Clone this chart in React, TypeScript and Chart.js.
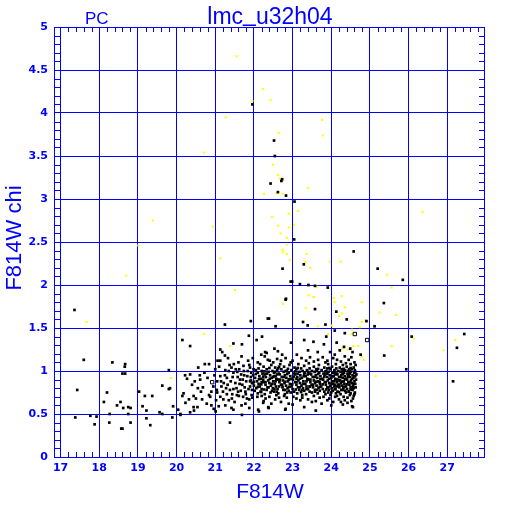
import React, { useEffect, useRef } from "react";
import { Chart, registerables } from "chart.js";
Chart.register(...registerables);

const BLUE = "#0000ff";
const xTickValues = [17, 18, 19, 20, 21, 22, 23, 24, 25, 26, 27];
const xTickLabels = ["17", "18", "19", "20", "21", "22", "23", "24", "25", "26", "27"];
const yTickValues = [0, 0.5, 1, 1.5, 2, 2.5, 3, 3.5, 4, 4.5, 5];
const yTickLabels = ["0", "0.5", "1", "1.5", "2", "2.5", "3", "3.5", "4", "4.5", "5"];
const xRange = [16.83, 27.95];
const yRange = [0, 5];
const titleParts = ["lmc", "_", "u32h04"];
const cornerText = "PC";
const xTitle = "F814W";
const yTitle = "F814W chi";

type P = [number, number];

const blackLeft: P[] = [
  [17.36, 1.71], [17.6, 1.13], [18.34, 1.1], [18.67, 1.08], [18.66, 1.05], [18.6, 0.97], [18.67, 0.97],
  [19.8, 1.01], [17.43, 0.78], [18.2, 0.75], [18.12, 0.64], [18.55, 0.64], [18.46, 0.6], [18.62, 0.57],
  [18.75, 0.58], [18.81, 0.57], [19.03, 0.76], [19.18, 0.71], [19.37, 0.71], [19.63, 0.83], [19.8, 0.79],
  [19.12, 0.59], [19.22, 0.54], [19.56, 0.52], [19.63, 0.5], [19.91, 0.59], [20.04, 0.55], [18.75, 0.5],
  [18.27, 0.5], [17.77, 0.48], [17.93, 0.47], [17.38, 0.46], [18.26, 0.4], [17.88, 0.38], [18.81, 0.4],
  [19.22, 0.45], [19.32, 0.37], [18.57, 0.33], [18.6, 0.33], [19.89, 0.46], [19.83, 0.8],
];

const blackMid: P[] = [
  [20.15, 1.36], [20.35, 1.29], [21.25, 1.54], [21.92, 1.58], [21.87, 1.41], [22.21, 1.4], [22.07, 1.36],
  [21.47, 1.32], [21.69, 1.31], [21.13, 1.25], [21.18, 1.22], [21.33, 1.15], [21.25, 1.18], [21.06, 1.12],
  [21.13, 1.12], [21.68, 1.17], [21.97, 1.15], [20.73, 1.08], [20.84, 1.08], [20.56, 1.04], [21.26, 1.01],
  [21.42, 1.04], [21.73, 1.06], [21.88, 1.07], [20.47, 0.88], [20.27, 0.91], [20.68, 0.81], [20.84, 0.72],
  [21.04, 0.78], [21.16, 0.82], [21.38, 0.78], [21.47, 0.79], [21.21, 0.67], [21.35, 0.66], [21.61, 0.71],
  [21.78, 0.76], [21.88, 0.67], [22.09, 0.7], [20.18, 0.74], [20.15, 0.71], [20.32, 0.67], [20.44, 0.71],
  [20.66, 0.67], [20.23, 0.63], [20.54, 0.58], [20.44, 0.58], [20.35, 0.52], [20.45, 0.54], [20.1, 0.49],
  [21.01, 0.53], [21.09, 0.59], [21.42, 0.57], [21.68, 0.6], [21.88, 0.57], [22.13, 0.53], [21.38, 0.4],
  [21.69, 0.49], [20.35, 0.96], [20.22, 0.95], [20.61, 0.9], [21.13, 0.94], [21.64, 0.9], [21.9, 0.82],
  [21.47, 0.98], [20.63, 0.76], [20.87, 0.7], [21.13, 0.7], [21.56, 0.72], [21.82, 0.68], [20.96, 0.56],
  [21.26, 0.6], [21.47, 0.55], [22.11, 0.55], [21.52, 0.86], [21.58, 0.93], [21.62, 1.02], [21.7, 0.84],
  [21.75, 0.95], [21.8, 0.88], [21.84, 1.0], [21.92, 0.93], [21.95, 0.78], [21.98, 0.86], [21.55, 0.8],
  [21.66, 0.77], [21.72, 0.7], [21.4, 0.88], [21.3, 0.92], [21.22, 0.86], [21.44, 0.73], [21.9, 1.04],
  [21.35, 1.0], [21.05, 0.88], [20.95, 0.82], [20.98, 0.95], [20.8, 0.92], [20.78, 0.62], [20.55, 0.8],
  [20.4, 0.84], [21.0, 1.02], [21.2, 0.76], [21.5, 0.64], [21.78, 0.62], [21.6, 1.1], [21.85, 1.12],
  [21.94, 0.72], [21.76, 0.81], [21.57, 0.99], [21.48, 1.08], [21.3, 0.73], [21.02, 0.66], [20.9, 0.6],
  [20.72, 0.98], [20.1, 0.5],
  [21.05, 0.75], [21.15, 0.88], [21.25, 0.95], [21.32, 0.84], [21.37, 1.07], [21.45, 0.93], [21.53, 1.02],
  [21.59, 0.76], [21.63, 0.85], [21.67, 0.96], [21.71, 0.9], [21.74, 1.0], [21.79, 0.73], [21.83, 0.94],
  [21.86, 0.79], [21.9, 0.88], [21.93, 0.98], [21.96, 0.69], [21.99, 1.02], [21.43, 0.68], [21.28, 0.8],
  [21.1, 1.05], [20.9, 0.76], [20.6, 0.95], [20.5, 0.68],
];

const blackUpper: P[] = [
  [21.96, 4.1], [22.52, 3.68], [22.54, 3.5], [22.73, 3.23], [22.71, 3.21], [22.43, 3.18], [22.62, 3.08],
  [22.83, 3.04], [23.05, 2.97], [23.04, 2.53], [24.58, 2.39], [23.29, 2.24], [22.74, 2.19], [22.95, 2.04],
  [22.99, 2.04], [23.19, 2.01], [23.41, 2.0], [23.58, 1.99], [23.91, 1.97], [22.83, 1.84], [22.82, 1.83],
  [23.58, 1.72], [24.13, 1.69], [24.4, 1.6], [22.39, 1.61], [22.36, 1.61], [23.27, 1.57], [23.39, 1.53],
  [23.85, 1.54], [22.56, 1.52], [24.09, 1.47], [24.35, 1.44], [23.87, 1.4], [23.3, 1.36], [23.54, 1.34],
  [23.81, 1.31], [24.14, 1.33], [24.33, 1.28], [24.49, 1.26], [22.96, 1.33], [22.53, 1.26], [22.29, 1.22],
  [22.73, 1.19], [23.11, 1.19], [23.65, 1.22], [23.97, 1.22], [24.09, 1.19], [24.35, 1.17], [24.55, 1.22],
  [23.4, 1.24], [22.62, 1.23], [24.22, 1.24], [22.19, 1.19], [22.33, 1.21],
];

const blackRight: P[] = [
  [25.36, 1.79], [25.12, 1.52], [24.91, 1.58], [24.76, 1.19], [25.37, 1.18], [26.08, 1.4], [27.44, 1.43],
  [27.25, 1.27], [25.94, 1.02], [27.15, 0.88], [25.2, 2.19], [25.85, 2.06],
];

const blackCore: P[] = [
  [22.41, 1.12], [22.82, 1.15], [23.23, 1.15], [23.66, 1.13], [22.36, 1.13], [22.28, 1.17], [22.6, 1.14],
  [23.0, 1.12], [23.45, 1.16], [23.9, 1.12], [24.05, 1.15], [24.25, 1.11], [24.45, 1.13], [24.6, 1.1],
  [22.1, 1.1], [23.78, 1.16], [24.52, 1.16],
  [22.16, 1.08], [22.25, 1.05], [22.45, 1.07], [22.55, 1.04], [22.68, 1.08], [22.78, 1.05], [22.92, 1.07],
  [23.05, 1.04], [23.15, 1.08], [23.3, 1.06], [23.42, 1.09], [23.55, 1.05], [23.68, 1.07], [23.82, 1.04],
  [23.92, 1.08], [24.02, 1.05], [24.12, 1.08], [24.22, 1.04], [24.3, 1.07], [24.4, 1.05], [24.5, 1.08],
  [24.58, 1.04], [24.63, 1.07], [23.22, 1.03], [24.46, 1.02],
  [22.05, 1.01], [22.2, 1.0], [22.33, 1.02], [22.48, 1.0], [22.6, 1.01], [22.71, 1.02], [22.85, 1.0],
  [22.97, 1.01], [23.1, 1.02], [23.26, 1.0], [23.37, 1.01], [23.5, 1.0], [23.61, 1.02], [23.75, 1.01],
  [23.87, 1.0], [23.98, 1.02], [24.08, 1.01], [24.18, 1.0], [24.27, 1.02], [24.36, 1.01], [24.44, 1.0],
  [24.53, 1.02], [24.61, 1.01],
  [22.1, 0.98], [22.22, 0.97], [22.38, 0.99], [22.52, 0.98], [22.64, 0.97], [22.77, 0.99], [22.9, 0.98],
  [23.03, 0.97], [23.18, 0.99], [23.31, 0.98], [23.45, 0.97], [23.57, 0.99], [23.69, 0.98], [23.8, 0.97],
  [23.93, 0.99], [24.04, 0.98], [24.14, 0.97], [24.24, 0.99], [24.33, 0.98], [24.42, 0.97], [24.5, 0.99],
  [24.59, 0.98], [24.65, 0.96],
  [21.98, 0.95], [22.14, 0.94], [22.28, 0.96], [22.42, 0.95], [22.56, 0.94], [22.67, 0.96], [22.8, 0.95],
  [22.94, 0.94], [23.07, 0.96], [23.2, 0.95], [23.34, 0.94], [23.48, 0.96], [23.6, 0.95], [23.72, 0.94],
  [23.84, 0.96], [23.96, 0.95], [24.06, 0.94], [24.16, 0.96], [24.26, 0.95], [24.35, 0.94], [24.45, 0.96],
  [24.55, 0.95], [24.62, 0.94],
  [22.03, 0.92], [22.18, 0.91], [22.31, 0.93], [22.46, 0.92], [22.58, 0.91], [22.72, 0.93], [22.84, 0.92],
  [22.98, 0.91], [23.12, 0.93], [23.24, 0.92], [23.38, 0.91], [23.52, 0.93], [23.64, 0.92], [23.77, 0.91],
  [23.89, 0.93], [24.0, 0.92], [24.1, 0.91], [24.2, 0.93], [24.3, 0.92], [24.39, 0.91], [24.48, 0.93],
  [24.57, 0.92], [24.64, 0.9],
  [21.92, 0.89], [22.08, 0.88], [22.24, 0.9], [22.37, 0.89], [22.5, 0.88], [22.62, 0.9], [22.75, 0.89],
  [22.88, 0.88], [23.01, 0.9], [23.15, 0.89], [23.28, 0.88], [23.41, 0.9], [23.55, 0.89], [23.66, 0.88],
  [23.79, 0.9], [23.91, 0.89], [24.02, 0.88], [24.13, 0.9], [24.23, 0.89], [24.32, 0.88], [24.41, 0.9],
  [24.51, 0.89], [24.6, 0.88],
  [21.95, 0.86], [22.12, 0.85], [22.26, 0.87], [22.4, 0.86], [22.54, 0.85], [22.66, 0.87], [22.79, 0.86],
  [22.93, 0.85], [23.06, 0.87], [23.19, 0.86], [23.33, 0.85], [23.46, 0.87], [23.58, 0.86], [23.71, 0.85],
  [23.83, 0.87], [23.95, 0.86], [24.05, 0.85], [24.15, 0.87], [24.25, 0.86], [24.34, 0.85], [24.44, 0.87],
  [24.53, 0.86], [24.62, 0.85],
  [22.0, 0.83], [22.15, 0.82], [22.3, 0.84], [22.44, 0.83], [22.57, 0.82], [22.7, 0.84], [22.83, 0.83],
  [22.96, 0.82], [23.1, 0.84], [23.23, 0.83], [23.36, 0.82], [23.49, 0.84], [23.62, 0.83], [23.74, 0.82],
  [23.86, 0.84], [23.97, 0.83], [24.08, 0.82], [24.18, 0.84], [24.28, 0.83], [24.38, 0.82], [24.47, 0.84],
  [24.56, 0.83], [24.63, 0.81],
  [22.06, 0.8], [22.2, 0.79], [22.35, 0.81], [22.49, 0.8], [22.61, 0.79], [22.74, 0.81], [22.87, 0.8],
  [23.0, 0.79], [23.14, 0.81], [23.27, 0.8], [23.4, 0.79], [23.53, 0.81], [23.67, 0.8], [23.78, 0.79],
  [23.9, 0.81], [24.01, 0.8], [24.11, 0.79], [24.21, 0.81], [24.31, 0.8], [24.41, 0.79], [24.5, 0.81],
  [24.58, 0.8],
  [22.02, 0.77], [22.17, 0.76], [22.33, 0.78], [22.47, 0.77], [22.59, 0.76], [22.76, 0.78], [22.9, 0.77],
  [23.04, 0.76], [23.17, 0.78], [23.3, 0.77], [23.44, 0.76], [23.58, 0.78], [23.7, 0.77], [23.82, 0.76],
  [23.94, 0.78], [24.04, 0.77], [24.16, 0.76], [24.26, 0.78], [24.36, 0.77], [24.46, 0.76], [24.55, 0.78],
  [24.61, 0.75],
  [22.1, 0.74], [22.28, 0.73], [22.43, 0.75], [22.63, 0.74], [22.8, 0.73], [22.95, 0.75], [23.12, 0.74],
  [23.35, 0.73], [23.5, 0.75], [23.65, 0.74], [23.85, 0.73], [24.0, 0.75], [24.12, 0.74], [24.24, 0.73],
  [24.38, 0.75], [24.5, 0.74], [24.6, 0.73],
  [22.2, 0.71], [22.4, 0.7], [22.58, 0.72], [22.78, 0.71], [23.02, 0.7], [23.25, 0.72], [23.55, 0.71],
  [23.8, 0.7], [23.98, 0.72], [24.15, 0.71], [24.32, 0.7], [24.48, 0.72], [24.58, 0.71],
  [22.3, 0.68], [22.55, 0.67], [22.85, 0.69], [23.1, 0.68], [23.4, 0.67], [23.7, 0.69], [23.95, 0.68],
  [24.2, 0.67], [24.42, 0.69], [24.56, 0.68],
  [22.25, 0.65], [22.7, 0.64], [23.2, 0.66], [23.6, 0.65], [24.05, 0.64], [24.35, 0.66], [24.52, 0.65],
  [22.45, 0.62], [23.0, 0.61], [23.75, 0.62], [24.3, 0.61],
  [22.37, 0.58], [22.82, 0.56], [24.0, 0.6], [24.42, 0.63], [24.54, 0.59], [22.81, 0.55], [24.56, 0.58],
  [23.3, 0.58], [23.6, 0.54], [22.24, 0.63], [22.38, 0.57],
  [22.5, 0.93], [22.9, 0.9], [23.3, 0.96], [23.7, 0.87], [24.1, 0.84], [24.45, 0.94], [22.65, 1.05],
  [23.25, 0.78], [23.9, 1.03], [24.3, 0.97], [22.2, 0.87], [23.45, 0.82], [24.2, 0.89], [23.1, 0.91],
];

const blackCoreExtra: P[] = [
  [22.12, 1.03], [22.4, 1.035], [22.63, 1.03], [22.88, 1.025], [23.13, 1.035], [23.44, 1.03], [23.66, 1.025],
  [23.95, 1.035], [24.13, 1.03], [24.32, 1.025], [24.5, 1.035],
  [22.27, 0.995], [22.55, 0.99], [22.82, 1.0], [23.07, 0.995], [23.4, 0.99], [23.63, 1.0], [23.85, 0.995],
  [24.1, 0.99], [24.3, 1.0], [24.47, 0.995], [24.62, 0.99],
  [22.05, 0.965], [22.34, 0.97], [22.6, 0.96], [22.86, 0.965], [23.13, 0.97], [23.39, 0.96], [23.66, 0.965],
  [23.9, 0.97], [24.1, 0.96], [24.29, 0.965], [24.48, 0.97],
  [22.24, 0.935], [22.52, 0.94], [22.77, 0.93], [23.03, 0.935], [23.29, 0.94], [23.57, 0.93], [23.82, 0.935],
  [24.04, 0.94], [24.24, 0.93], [24.43, 0.935], [24.6, 0.94],
  [22.13, 0.905], [22.41, 0.91], [22.67, 0.9], [22.92, 0.905], [23.19, 0.91], [23.46, 0.9], [23.72, 0.905],
  [23.95, 0.91], [24.16, 0.9], [24.36, 0.905], [24.54, 0.91],
  [22.0, 0.875], [22.3, 0.87], [22.56, 0.88], [22.81, 0.875], [23.1, 0.87], [23.36, 0.88], [23.61, 0.875],
  [23.86, 0.87], [24.08, 0.88], [24.28, 0.875], [24.47, 0.87],
  [22.19, 0.845], [22.47, 0.85], [22.73, 0.84], [22.99, 0.845], [23.27, 0.85], [23.53, 0.84], [23.78, 0.845],
  [24.01, 0.85], [24.21, 0.84], [24.4, 0.845], [24.58, 0.85],
  [22.1, 0.815], [22.38, 0.81], [22.65, 0.82], [22.91, 0.815], [23.18, 0.81], [23.44, 0.82], [23.7, 0.815],
  [23.93, 0.81], [24.14, 0.82], [24.34, 0.815], [24.53, 0.81],
  [22.26, 0.785], [22.53, 0.79], [22.81, 0.78], [23.08, 0.785], [23.36, 0.79], [23.62, 0.78], [23.87, 0.785],
  [24.09, 0.79], [24.3, 0.78], [24.5, 0.785],
  [22.19, 0.755], [22.52, 0.76], [22.86, 0.75], [23.22, 0.755], [23.58, 0.76], [23.92, 0.75], [24.2, 0.755],
  [24.45, 0.76],
  [22.5, 1.1], [22.95, 1.1], [23.35, 1.12], [23.55, 1.11], [24.15, 1.13], [24.38, 1.09], [22.7, 1.12],
  [23.85, 1.1], [22.9, 0.62], [23.5, 0.64], [23.9, 0.66], [24.25, 0.64], [22.65, 0.69], [23.25, 0.69],
  [24.1, 0.7],
];

const hollowPts: P[] = [
  [24.61, 1.43], [24.93, 1.36], [20.92, 0.87],
];

const yellowPts: P[] = [
  [21.55, 4.66], [21.96, 4.14], [21.27, 3.95], [22.23, 4.28], [22.43, 4.15], [23.76, 3.92], [22.64, 3.77],
  [20.71, 3.54], [23.78, 3.74], [22.49, 3.4], [22.62, 3.28], [22.67, 3.24], [23.4, 3.13], [22.26, 3.06],
  [22.59, 3.07], [22.74, 3.06], [23.14, 2.86], [22.9, 2.83], [22.47, 2.79], [20.94, 2.68], [22.62, 2.69],
  [23.04, 2.7], [22.9, 2.67], [22.69, 2.6], [22.85, 2.55], [22.85, 2.47], [22.74, 2.41], [22.74, 2.38],
  [22.85, 2.36], [23.36, 2.36], [21.13, 2.31], [22.93, 2.29], [23.33, 2.27], [23.96, 2.27], [24.24, 2.27],
  [23.45, 2.2], [23.62, 1.98], [21.51, 1.94], [23.41, 1.88], [23.55, 1.86], [24.07, 1.85], [24.27, 1.87],
  [19.39, 2.75], [19.01, 2.46], [18.7, 2.11], [17.67, 1.57], [19.85, 0.92], [20.71, 1.43], [21.38, 1.29],
  [22.75, 1.78], [23.54, 1.86], [23.34, 1.73], [24.06, 1.85], [24.09, 1.8], [24.35, 1.74], [24.2, 1.64],
  [24.28, 1.67], [23.65, 1.52], [24.01, 1.53], [23.92, 1.43], [24.54, 1.48], [24.57, 1.29], [24.28, 1.26],
  [24.42, 1.25], [24.79, 1.8], [25.25, 1.68], [25.68, 1.65], [24.89, 1.59], [24.79, 1.57], [24.74, 1.51],
  [25.56, 1.29], [26.13, 1.38], [27.21, 1.36], [26.9, 1.24], [24.79, 1.17], [24.84, 1.13], [25.15, 0.94],
  [26.36, 2.85], [25.45, 2.12], [24.53, 1.43], [24.7, 1.29], [25.56, 1.97],
];

const toPts = (arr: P[]) => arr.map(([x, y]) => ({ x, y }));

const decor = {
  id: "decor",
  afterDraw(chart: any) {
    const { ctx, chartArea: a, scales } = chart;
    const xs = scales.x;
    const ys = scales.y;
    ctx.save();
    ctx.strokeStyle = BLUE;
    ctx.lineWidth = 1;
    ctx.beginPath();
    for (let i = 0; i <= 60; i++) {
      const v = 17 + i * 0.2;
      if (v > xRange[1]) break;
      if (i % 5 === 0) continue;
      const px = Math.round(xs.getPixelForValue(v)) + 0.5;
      ctx.moveTo(px, a.bottom);
      ctx.lineTo(px, a.bottom - 5);
      ctx.moveTo(px, a.top);
      ctx.lineTo(px, a.top + 5);
    }
    for (let i = 1; i < 50; i++) {
      if (i % 5 === 0) continue;
      const v = i * 0.1;
      const py = Math.round(ys.getPixelForValue(v)) + 0.5;
      ctx.moveTo(a.left, py);
      ctx.lineTo(a.left + 6, py);
      ctx.moveTo(a.right, py);
      ctx.lineTo(a.right - 5, py);
    }
    ctx.stroke();
    ctx.strokeRect(a.left + 0.5, a.top + 0.5, a.right - a.left, a.bottom - a.top);

    ctx.fillStyle = BLUE;
    ctx.font = "bold 11px 'DejaVu Sans'";
    ctx.textBaseline = "middle";
    ctx.textAlign = "center";
    xTickValues.forEach((v, i) => {
      ctx.fillText(xTickLabels[i], xs.getPixelForValue(v), a.bottom + 11);
    });
    ctx.textAlign = "right";
    yTickValues.forEach((v, i) => {
      ctx.fillText(yTickLabels[i], a.left - 6, ys.getPixelForValue(v));
    });

    ctx.textBaseline = "alphabetic";
    ctx.font = "17px 'Liberation Sans'";
    ctx.textAlign = "left";
    ctx.fillText(cornerText, 85, 24);

    ctx.font = "23px 'Liberation Sans'";
    const w0 = ctx.measureText(titleParts[0]).width;
    const w1 = ctx.measureText(titleParts[1]).width;
    const w2 = ctx.measureText(titleParts[2]).width;
    let tx = 270 - (w0 + w1 + w2) / 2;
    ctx.fillText(titleParts[0], tx, 24);
    tx += w0;
    ctx.fillText(titleParts[1], tx, 21);
    tx += w1;
    ctx.fillText(titleParts[2], tx, 24);

    ctx.textAlign = "center";
    ctx.font = "21px 'Liberation Sans'";
    ctx.fillText(xTitle, 270, 498);
    ctx.font = "22px 'Liberation Sans'";
    ctx.translate(21, 238);
    ctx.rotate(-Math.PI / 2);
    ctx.fillText(yTitle, 0, 0);
    ctx.restore();
  },
};

export default function App() {
  const ref = useRef<HTMLCanvasElement>(null);
  useEffect(() => {
    if (!ref.current) return;
    const black = [...blackLeft, ...blackMid, ...blackUpper, ...blackRight, ...blackCore, ...blackCoreExtra];
    const chart = new Chart(ref.current, {
      type: "scatter",
      data: {
        datasets: [
          {
            data: toPts(black),
            pointStyle: "rect",
            pointRadius: 1.9,
            pointBorderWidth: 0,
            backgroundColor: "#000000",
            borderColor: "#000000",
          },
          {
            data: toPts(hollowPts),
            pointStyle: "rect",
            pointRadius: 2.4,
            pointBorderWidth: 1,
            backgroundColor: "#ffffff",
            borderColor: "#000000",
          },
          {
            data: toPts(yellowPts),
            pointStyle: "rect",
            pointRadius: 1.5,
            pointBorderWidth: 0,
            backgroundColor: "#ffff00",
            borderColor: "#ffff00",
          },
        ],
      },
      options: {
        responsive: false,
        animation: false,
        devicePixelRatio: 1,
        events: [],
        layout: { padding: { left: 0, top: 27, right: 28, bottom: 0 } },
        plugins: { legend: { display: false }, tooltip: { enabled: false }, title: { display: false } },
        scales: {
          x: {
            type: "linear",
            min: xRange[0],
            max: xRange[1],
            afterBuildTicks: (s: any) => {
              s.ticks = xTickValues.map((v) => ({ value: v }));
            },
            afterFit: (s: any) => {
              s.height = 55;
            },
            grid: { color: BLUE, lineWidth: 1, drawTicks: false },
            border: { display: false },
            ticks: { display: false },
          },
          y: {
            type: "linear",
            min: yRange[0],
            max: yRange[1],
            afterBuildTicks: (s: any) => {
              s.ticks = yTickValues.map((v) => ({ value: v }));
            },
            afterFit: (s: any) => {
              s.width = 54;
            },
            grid: { color: BLUE, lineWidth: 1, drawTicks: false },
            border: { display: false },
            ticks: { display: false },
          },
        },
      },
      plugins: [decor],
    } as any);
    return () => chart.destroy();
  }, []);
  return (
    <div style={{ position: "fixed", left: 0, top: 0, width: 512, height: 512, background: "#fff" }}>
      <canvas ref={ref} width={512} height={512} style={{ display: "block", width: 512, height: 512 }} />
    </div>
  );
}
